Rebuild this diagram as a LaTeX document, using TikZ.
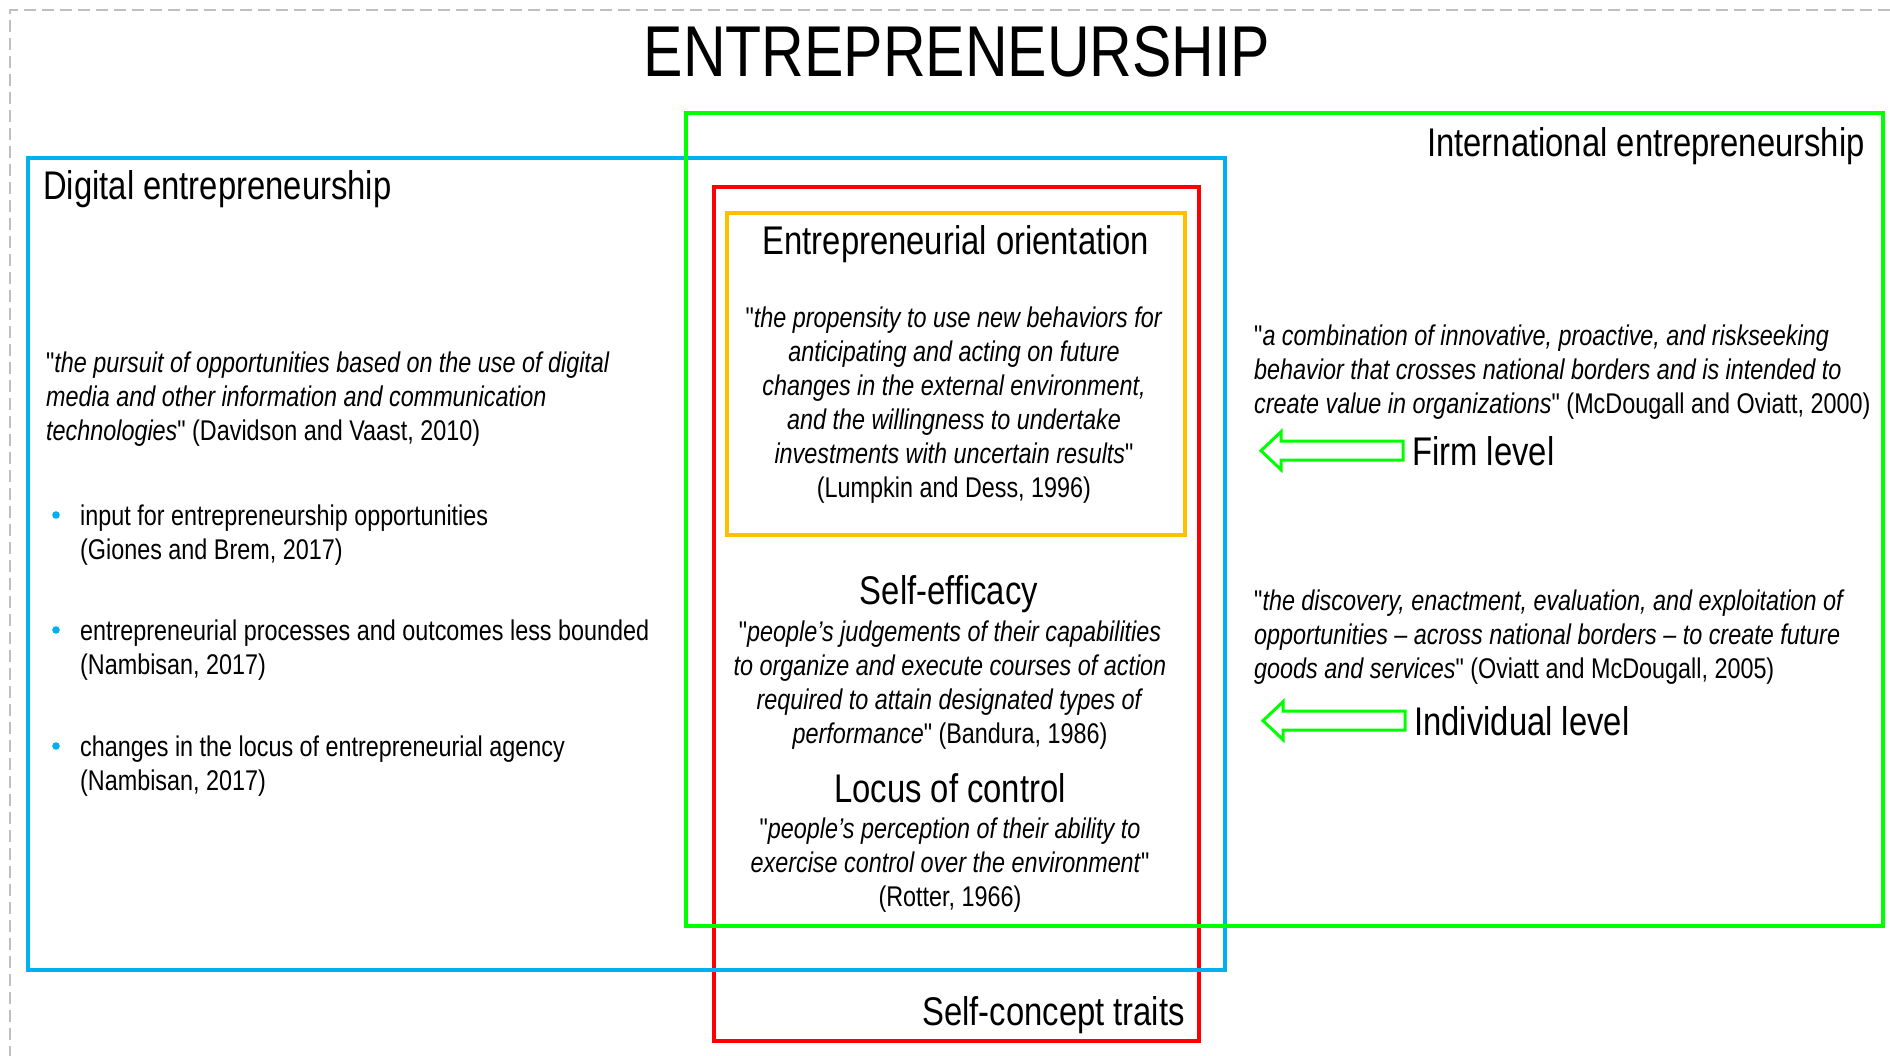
\documentclass[tikz,border=0pt]{standalone}
\usepackage{fontspec}
\setmainfont{Liberation Sans}[FakeStretch=0.82,Ligatures=TeXOff]

\definecolor{boxgreen}{RGB}{0,255,0}
\definecolor{boxblue}{RGB}{0,176,240}
\definecolor{boxred}{RGB}{255,0,0}
\definecolor{boxorange}{RGB}{255,192,0}
\definecolor{framegray}{RGB}{191,191,191}

\begin{document}
\begin{tikzpicture}[x=1pt,y=-1pt,
  field/.style={line width=4pt},
  heading/.style={inner sep=0pt,font=\fontsize{40}{48}\selectfont},
  quote/.style={inner sep=0pt,font=\fontsize{28.5}{34}\selectfont},
  levelarrow/.style={draw=boxgreen,fill=white,line width=3pt}]

\useasboundingbox (0,0) rectangle (1890,1056);

% page frame
\draw[framegray,line width=1.5pt,dash pattern=on 12pt off 6pt] (1890,10) -- (10,10) -- (10,1056);

\node[inner sep=0pt,font=\fontsize{72}{86}\selectfont,anchor=base] (title) at (957,77) {ENTREPRENEURSHIP};

% the fields
\draw[field,boxred] (714,187) rectangle (1199,1041);
\draw[field,boxorange] (727,213) rectangle (1185,535);
\draw[field,boxblue] (28,158) rectangle (1225,970);
\draw[field,boxgreen] (686,113) rectangle (1883,926);

\node[heading,anchor=base west] (digital) at (43,200) {Digital entrepreneurship};
\node[heading,anchor=base east] (intl) at (1865,157) {International entrepreneurship};
\node[heading,anchor=base east] (traits) at (1185,1025) {Self-concept traits};

% digital entrepreneurship
\node[quote,align=left,anchor=north west] (digitalquote) at (46,352)
  {"\textit{the pursuit of opportunities based on the use of digital}\\
   \textit{media and other information and communication}\\
   \textit{technologies}" (Davidson and Vaast, 2010)};

\foreach \y/\txt [count=\i] in {
    525/{input for entrepreneurship opportunities\\(Giones and Brem, 2017)},
    640/{entrepreneurial processes and outcomes less bounded\\(Nambisan, 2017)},
    756/{changes in the locus of entrepreneurial agency\\(Nambisan, 2017)}} {
  \fill[boxblue] (56,\y-10) circle (3.8);
  \node[quote,align=left,anchor=north west] (bullet\i) at (80,\y-20) {\txt};
}

% self-concept traits
\node[heading,anchor=base] (eohead) at (956,255) {Entrepreneurial orientation};
\node[quote,align=center,anchor=north] (eoquote) at (954,307)
  {"\textit{the propensity to use new behaviors for}\\
   \textit{anticipating and acting on future}\\
   \textit{changes in the external environment,}\\
   \textit{and the willingness to undertake}\\
   \textit{investments with uncertain results}"\\
   (Lumpkin and Dess, 1996)};

\node[heading,anchor=base] (sehead) at (949,604) {Self-efficacy};
\node[quote,align=center,anchor=north] (sequote) at (950,621)
  {"\textit{people’s judgements of their capabilities}\\
   \textit{to organize and execute courses of action}\\
   \textit{required to attain designated types of}\\
   \textit{performance}" (Bandura, 1986)};

\node[heading,anchor=base] (lochead) at (950,802) {Locus of control};
\node[quote,align=center,anchor=north] (locquote) at (950,818)
  {"\textit{people’s perception of their ability to}\\
   \textit{exercise control over the environment}"\\
   (Rotter, 1966)};

% international entrepreneurship
\node[quote,align=left,anchor=north west] (firmquote) at (1254,325)
  {"\textit{a combination of innovative, proactive, and riskseeking}\\
   \textit{behavior that crosses national borders and is intended to}\\
   \textit{create value in organizations}" (McDougall and Oviatt, 2000)};
\node[heading,anchor=base west] (firm) at (1412,465) {Firm level};

\node[quote,align=left,anchor=north west] (indquote) at (1254,590)
  {"\textit{the discovery, enactment, evaluation, and exploitation of}\\
   \textit{opportunities – across national borders – to create future}\\
   \textit{goods and services}" (Oviatt and McDougall, 2005)};
\node[heading,anchor=base west] (individual) at (1414,735) {Individual level};

\foreach \lbl in {firm,individual}
  \draw[levelarrow] (\lbl.west) ++(-9,-9.5) -- ++(-122,0) -- ++(0,-9.5) -- ++(-20,19)
    -- ++(20,19) -- ++(0,-9.5) -- ++(122,0) -- cycle;

\end{tikzpicture}
\end{document}
